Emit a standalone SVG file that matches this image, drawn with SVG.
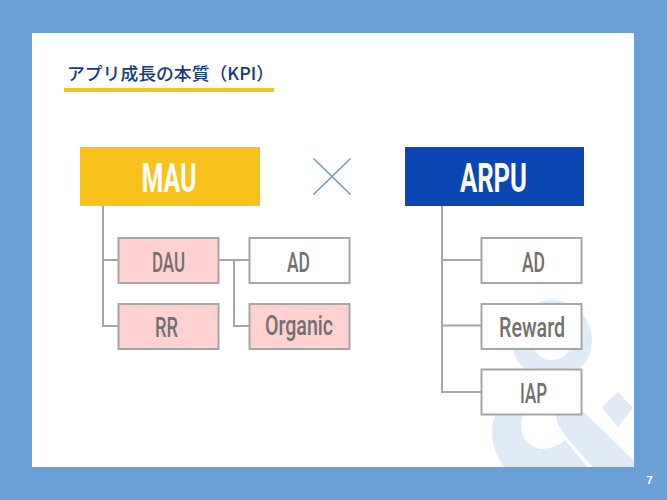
<svg xmlns="http://www.w3.org/2000/svg" width="667" height="500" viewBox="0 0 667 500">
<style>
.big{font-family:"Roboto","Liberation Sans",sans-serif;font-weight:700;font-size:41px;fill:#fff;text-anchor:middle}
.sm{font-family:"Roboto","Liberation Sans",sans-serif;font-weight:500;font-size:28px;fill:#717171;text-anchor:middle}
.box{stroke:#a6a6a6;stroke-width:2}
.w{fill:#fff}.p{fill:#ffd1d0}
.cn{fill:none;stroke:#a6a6a6;stroke-width:2}
</style>
<defs><clipPath id="c"><rect x="32" y="33" width="602" height="434"/></clipPath></defs>
<rect width="667" height="500" fill="#6aa0d5"/>
<rect x="32" y="33" width="602" height="434" fill="#fff"/>
<g id="watermark" clip-path="url(#c)" fill="#dfeaf5">
<circle cx="552" cy="340" r="30" fill="none" stroke="#dfeaf5" stroke-width="20"/>
<path d="M497 410Q490 425 493 443Q497 460 507 470L590 470L565 440Q555 449 540 449Q522 445 521 425Q521 418 525 410Z"/>
<path d="M555 412L584 412L640 467L640 472L597 472L567 438L558 425Z"/>
<path d="M602 407L618 392L633 408L618 427Z"/>
</g>
<g id="title">
<text x="67" y="80" font-family="'Noto Sans CJK JP','Noto Sans',sans-serif" font-weight="500" font-size="17.5" fill="#17397f" textLength="207" lengthAdjust="spacingAndGlyphs">アプリ成長の本質（KPI）</text>
<rect x="64" y="88" width="210" height="4" fill="#f8c21c"/>
</g>
<g id="connectors">
<path class="cn" d="M103 206V326H118M103 260H118M219 260H249M234 260V326H249"/>
<path class="cn" d="M442 206V392H482M442 260H482M442 325.500H482"/>
</g>
<g id="mau"><rect x="80" y="147" width="180" height="59" fill="#f8c21c"/><text class="big" x="169" y="192" textLength="55" lengthAdjust="spacingAndGlyphs">MAU</text></g>
<g id="times"><path d="M313.500 158.500L350.500 194.500M350.500 158.500L313.500 194.500" stroke="#6f9cc4" stroke-width="1.6" fill="none"/></g>
<g id="arpu"><rect x="405" y="147" width="179" height="59" fill="#0b47b3"/><text class="big" x="493.500" y="191.500" textLength="67" lengthAdjust="spacingAndGlyphs">ARPU</text></g>
<g id="dau"><rect class="box p" x="118.500" y="238" width="100" height="45"/><text class="sm" x="168.500" y="272" textLength="33" lengthAdjust="spacingAndGlyphs">DAU</text></g>
<g id="rr"><rect class="box p" x="118.500" y="304" width="100" height="45"/><text class="sm" x="166.500" y="337" textLength="23" lengthAdjust="spacingAndGlyphs">RR</text></g>
<g id="ad1"><rect class="box w" x="249.500" y="238" width="100" height="45"/><text class="sm" x="298.500" y="272" textLength="23" lengthAdjust="spacingAndGlyphs">AD</text></g>
<g id="organic"><rect class="box p" x="249.500" y="304" width="100" height="45"/><text class="sm" x="299" y="335" textLength="68" lengthAdjust="spacingAndGlyphs">Organic</text></g>
<g id="ad2"><rect class="box w" x="481.500" y="238" width="100" height="45"/><text class="sm" x="533.500" y="272" textLength="23" lengthAdjust="spacingAndGlyphs">AD</text></g>
<g id="reward"><rect class="box w" x="481.500" y="304" width="100" height="45"/><text class="sm" x="532" y="336.500" textLength="66" lengthAdjust="spacingAndGlyphs">Reward</text></g>
<g id="iap"><rect class="box w" x="481.500" y="369.500" width="100" height="45"/><text class="sm" x="533.500" y="403" textLength="27" lengthAdjust="spacingAndGlyphs">IAP</text></g>
<text x="649.500" y="484" font-family="'Liberation Sans',sans-serif" font-weight="700" font-size="11" fill="#fff" text-anchor="middle">7</text>
</svg>
